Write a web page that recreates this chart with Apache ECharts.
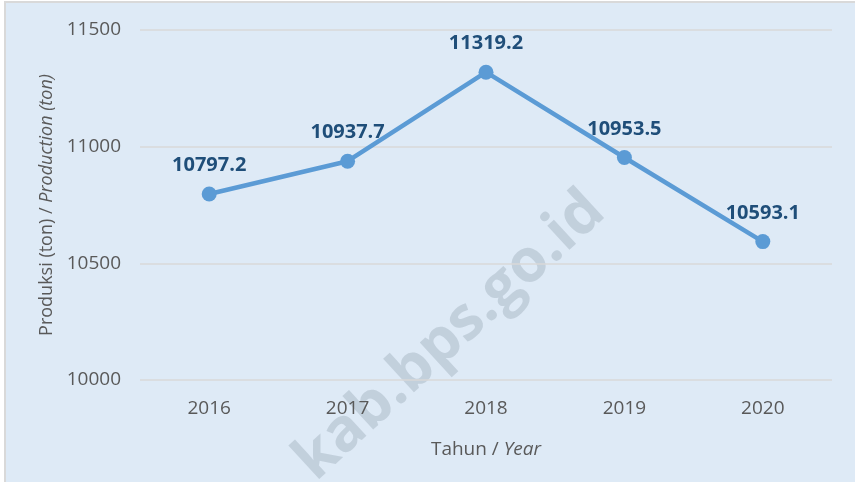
<!DOCTYPE html>
<html><head><meta charset="utf-8">
<script src="https://cdn.jsdelivr.net/npm/echarts@6/dist/echarts.min.js"></script>
<style>html,body{margin:0;padding:0;background:#fff;}#c{width:855px;height:482px;}</style>
</head><body><div id="c"></div>
<script>
const categories = ['2016','2017','2018','2019','2020'];
const production = [10797.2, 10937.7, 11319.2, 10953.5, 10593.1];
const yTicks = [10000, 10500, 11000, 11500];

const chart = echarts.init(document.getElementById('c'), null, {renderer:'canvas'});
const font = 'Open Sans, DejaVu Sans, sans-serif';
chart.setOption({
  animation:false,
  backgroundColor:'#fff',
  graphic:[
    {type:'rect', z:-10, shape:{x:5,y:2,width:860,height:490}, style:{fill:'#deeaf6', stroke:'#d9d9d9', lineWidth:2}},
    {type:'text', z:-1, x:450, y:336, rotation:Math.PI*42.5/180,
     style:{text:'kab.bps.go.id', font:'bold 60px Open Sans, sans-serif', fill:'rgba(150,165,180,0.38)', align:'center', verticalAlign:'middle'}}
  ],
  grid:{left:140, right:23, top:30, bottom:102},
  xAxis:{type:'category', data:categories, boundaryGap:true,
    axisLine:{show:false}, axisTick:{show:false},
    axisLabel:{color:'#595959', fontSize:19, fontFamily:font, margin:19},
    name:'{n|Tahun / }{i|Year}', nameLocation:'middle', nameGap:60,
    nameTextStyle:{rich:{
      n:{color:'#595959', fontSize:19, fontFamily:font},
      i:{color:'#595959', fontSize:19, fontFamily:font, fontStyle:'italic'}}}
  },
  yAxis:{type:'value', min:yTicks[0], max:yTicks[yTicks.length-1], interval:500,
    axisLine:{show:false}, axisTick:{show:false},
    splitLine:{lineStyle:{color:'#d9d9d9', width:1.5}},
    axisLabel:{color:'#595959', fontSize:19, fontFamily:font, margin:19, formatter:v=>String(v)},
    name:'{n|Produksi (ton) / }{i|Production (ton)}', nameLocation:'middle', nameGap:80, nameRotate:90,
    nameTextStyle:{rich:{
      n:{color:'#595959', fontSize:18, fontFamily:font},
      i:{color:'#595959', fontSize:18, fontFamily:font, fontStyle:'italic'}}}
  },
  series:[{type:'line', data:production, symbol:'circle', symbolSize:15,
    lineStyle:{color:'#5b9bd5', width:4.5}, itemStyle:{color:'#5b9bd5'},
    label:{show:true, position:'top', distance:11, color:'#1f4e79', fontWeight:'bold', fontSize:20, fontFamily:font,
      formatter:p=>p.value.toFixed(1)}
  }]
});
</script></body></html>
